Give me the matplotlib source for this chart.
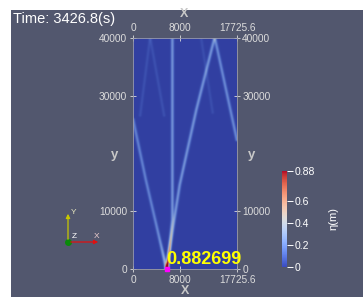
import numpy as np
import matplotlib
matplotlib.use('Agg')
from matplotlib import pyplot as plt
from matplotlib.colors import ListedColormap, Normalize
from matplotlib.patches import Rectangle

plt.rcParams['font.family'] = ['Liberation Sans', 'DejaVu Sans']

# Domain and scale
x_max = 17725.6
y_max = 40000.0
eta_max = 0.88
time_s = 3426.8
probe_value = 0.882699
probe_xy = (5700.0, 0.0)

x_ticks = [0, 8000, 17725.6]
x_tick_labels = ['0', '8000', '17725.6']
y_ticks = [0, 10000, 30000, 40000]
y_tick_labels = ['0', '10000', '30000', '40000']
cbar_ticks = [0, 0.2, 0.4, 0.6, 0.88]
cbar_labels = ['0', '0.2', '0.4', '0.6', '0.88']

# Wave ridges: (points in m, amplitude of eta)
ray_right_x = [5700, 7960, 10806, 13945]
ray_right_y = [0, 14520, 27490, 40000]
ray_reflect_x = [13945, 17725.6]
ray_reflect_y = [40000, 22300]
ray_left_x = [5700, 2165, 0]
ray_left_y = [0, 15390, 25760]
ray_vert_x = [5900, 6710, 6710]
ray_vert_y = [300, 8500, 40000]
faint_a_x = [2900, 1200]
faint_a_y = [40000, 26500]
faint_b_x = [2900, 5300]
faint_b_y = [40000, 26500]
faint_c_x = [11600, 13600]
faint_c_y = [40000, 27000]

ridges = [
    (ray_right_x, ray_right_y, 0.21),
    (ray_reflect_x, ray_reflect_y, 0.18),
    (ray_left_x, ray_left_y, 0.16),
    (ray_vert_x, ray_vert_y, 0.21),
    (faint_a_x, faint_a_y, 0.04),
    (faint_b_x, faint_b_y, 0.04),
    (faint_c_x, faint_c_y, 0.035),
]

W, H = 363, 297


def fx(px):
    return px / W


def fy(py):
    return 1 - py / H


# distance from grid points to a segment
def seg_dist(X, Y, x0, y0, x1, y1):
    dx, dy = x1 - x0, y1 - y0
    t = ((X - x0) * dx + (Y - y0) * dy) / (dx * dx + dy * dy)
    t = np.clip(t, 0, 1)
    return np.hypot(X - (x0 + t * dx), Y - (y0 + t * dy))


gx = np.linspace(0, x_max, 320)
gy = np.linspace(0, y_max, 700)
X, Y = np.meshgrid(gx, gy)
r_src = np.hypot(X - probe_xy[0], Y - probe_xy[1])
boost = 1 + 1.8 * np.exp(-r_src / 2500)
field = np.zeros_like(X)
for xs, ys, amp in ridges:
    d = np.full_like(X, np.inf)
    for i in range(len(xs) - 1):
        d = np.minimum(d, seg_dist(X, Y, xs[i], ys[i], xs[i + 1], ys[i + 1]))
    field += amp * np.exp(-(d / 260) ** 2)
field = field * boost + probe_value * np.exp(-(r_src / 200) ** 2)
field = np.clip(field, 0, eta_max)

# ParaView lighting makes the surface darker than the colour legend
dark = plt.cm.coolwarm(np.linspace(0, 1, 256))
dark[:, :3] *= 0.84
dark_cmap = ListedColormap(dark)

bg = (0.32, 0.34, 0.43)
lab = '#dcdcdc'

fig = plt.figure(figsize=(W / 100, H / 100), dpi=100, facecolor='white')
back = fig.add_axes([0, 0, 1, 1], zorder=0)
back.set_axis_off()
back.set_xlim(0, W)
back.set_ylim(H, 0)
back.add_patch(Rectangle((11, 10), W - 11, H - 10, color=bg, lw=0))

ax = fig.add_axes([fx(133.3), fy(269), fx(237.3) - fx(133.3), fy(37.7) - fy(269)], zorder=1)
ax.imshow(field, origin='lower', extent=[0, x_max, 0, y_max], aspect='auto',
          cmap=dark_cmap, norm=Normalize(0, eta_max), interpolation='bilinear')
ax.set_xlim(0, x_max)
ax.set_ylim(0, y_max)
for s in ax.spines.values():
    s.set_color('#9a9caa')
    s.set_linewidth(0.6)

ax.set_xticks(x_ticks, x_tick_labels)
ax.set_yticks(y_ticks, y_tick_labels)
ax.tick_params(direction='inout', length=5, width=0.6, color=lab, labelcolor=lab,
               labelsize=7.3, pad=2)
ax.tick_params(axis='x', pad=1.5)
top = ax.secondary_xaxis('top')
top.set_xticks(x_ticks, x_tick_labels)
top.tick_params(direction='inout', length=5, width=0.6, color=lab, labelcolor=lab,
                labelsize=7.3, pad=1)
right = ax.secondary_yaxis('right')
right.set_yticks(y_ticks, y_tick_labels)
right.tick_params(direction='inout', length=5, width=0.6, color=lab, labelcolor=lab,
                  labelsize=7.3, pad=1)
for sec in (top, right):
    for s in sec.spines.values():
        s.set_visible(False)

# axis titles
back.text(184, 14, 'X', color='#c8c8c8', fontsize=9, fontweight='bold', ha='center', va='center')
back.text(185, 291, 'X', color='#c8c8c8', fontsize=9, fontweight='bold', ha='center', va='center')
back.text(115, 155, 'y', color='#c8c8c8', fontsize=9.5, fontweight='bold', ha='center', va='center')
back.text(252, 155, 'y', color='#c8c8c8', fontsize=9.5, fontweight='bold', ha='center', va='center')

back.text(13, 19, 'Time: %.1f(s)' % time_s, color='white', fontsize=10.5,
          ha='left', va='center')

# probe point and value
ax.plot([probe_xy[0]], [probe_xy[1]], 's', color='#ff00ff', ms=3, clip_on=False, zorder=5)
fig.text(fx(166), fy(260), '%g' % probe_value, color='#ffff00', fontsize=13,
         fontweight='bold', ha='left', va='center', zorder=5)

# colour legend
cax = fig.add_axes([fx(281.7), fy(266.7), fx(286.7) - fx(281.7), fy(170.7) - fy(266.7)], zorder=1)
sm = plt.cm.ScalarMappable(norm=Normalize(0, eta_max), cmap='coolwarm')
cb = fig.colorbar(sm, cax=cax, ticks=cbar_ticks)
cb.set_ticklabels(cbar_labels)
cb.outline.set_visible(False)
cax.tick_params(color='white', labelcolor='white', labelsize=7.5, length=4, width=0.7, pad=2)
back.text(333, 218, 'η(m)', color='white', fontsize=8, rotation=90, ha='center', va='center')

# orientation triad
ox, oy = 68, 242
back.annotate('', xy=(ox, 211), xytext=(ox, oy),
              arrowprops=dict(arrowstyle='-|>', color='#c8c800', lw=0.9, mutation_scale=6))
back.annotate('', xy=(101, oy), xytext=(ox, oy),
              arrowprops=dict(arrowstyle='-|>', color='#e01010', lw=0.9, mutation_scale=6))
back.plot([ox], [oy], 'o', color='#0a8a0a', ms=4)
back.text(71, 212, 'Y', color='#e8e8c0', fontsize=6, ha='left', va='center')
back.text(72, 237, 'Z', color='white', fontsize=6, ha='left', va='center')
back.text(94, 237, 'X', color='#f0d0d0', fontsize=6, ha='left', va='center')

fig.savefig('out.png', dpi=100, facecolor='white')
